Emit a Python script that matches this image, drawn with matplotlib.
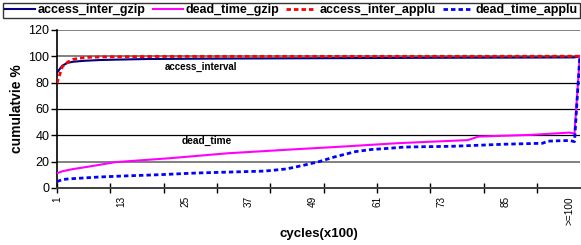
import numpy as np
import matplotlib.pyplot as plt

plt.rcParams['font.family'] = ['Liberation Sans', 'DejaVu Sans']

# category numbers (1-based) and cumulative %
gzip_access_cat = [1, 2, 3, 4, 6, 9, 12, 18, 30, 50, 70, 90, 98, 99]
gzip_access_val = [87.5, 92.8, 95.0, 95.8, 96.5, 97.1, 97.4, 97.9, 98.2, 98.5, 98.8, 99.0, 99.1, 100]

gzip_dead_cat = [1, 2, 3, 4, 7, 12, 22, 33, 45, 55, 65, 78, 80, 90, 97, 98, 99]
gzip_dead_val = [11.1, 12.6, 13.5, 14.3, 16.2, 19.6, 22.5, 26.3, 29.2, 31.5, 34.0, 36.3, 39.0, 40.3, 42.0, 41.3, 100]

applu_access_cat = [1, 2, 3, 4, 5, 7, 10, 20, 99]
applu_access_val = [79.5, 92.0, 95.5, 97.5, 98.5, 99.2, 99.5, 99.8, 100]

applu_dead_cat = [1, 2, 3, 5, 9, 13, 20, 27, 33, 40, 44, 47, 50, 53, 57, 60, 63, 66,
                  70, 75, 80, 85, 88, 92, 93, 95, 97, 98, 99]
applu_dead_val = [4.8, 6.3, 6.8, 7.3, 8.3, 9.0, 10.0, 11.3, 12.0, 12.8, 14.4, 17.0, 19.8,
                  23.5, 27.6, 29.2, 30.0, 31.0, 31.3, 31.6, 32.4, 33.2, 33.5, 33.9, 35.5,
                  35.8, 36.0, 35.2, 100]

tick_cats = [1, 13, 25, 37, 49, 61, 73, 85, 97]
tick_labels = ["1", "13", "25", "37", "49", "61", "73", "85", ">=100"]
n_cats = 99

fig = plt.figure(figsize=(5.81, 2.45), dpi=100)
ax = fig.add_axes([0.098, 0.233, 0.9, 0.645])

def idx(cats):
    return np.array(cats) - 1

# horizontal gridlines (some render grey/soft in the original)
for level in [20, 40, 60, 80, 100, 120]:
    if level in (20, 100, 120):
        ax.axhline(level, color="#808080", lw=1.4, zorder=0)
    else:
        ax.axhline(level, color="black", lw=0.9, zorder=0)

ax.plot(idx(gzip_access_cat), gzip_access_val, color="#000080", lw=1.5,
        label="access_inter_gzip", zorder=3)
ax.plot(idx(gzip_dead_cat), gzip_dead_val, color="#FF00FF", lw=1.5,
        label="dead_time_gzip", zorder=3)
ax.plot(idx(applu_access_cat), applu_access_val, color="#FF0000", lw=2.0,
        ls=(0, (1.6, 1.1)), label="access_inter_applu", zorder=4)
ax.plot(idx(applu_dead_cat), applu_dead_val, color="#0000FF", lw=2.0,
        ls=(0, (1.6, 1.1)), label="dead_time_applu", zorder=4)

ax.text(27, 91.6, "access_interval", fontsize=7, fontweight="bold", ha="center", va="center")
ax.text(28, 35.9, "dead_time", fontsize=7.3, fontweight="bold", ha="center", va="center")

ax.set_xlim(0, n_cats - 1)
ax.set_ylim(0, 120)
ax.set_yticks([0, 20, 40, 60, 80, 100, 120])
ax.tick_params(axis="y", labelsize=9, length=4, width=1, pad=1.5)

# tick marks every 10 categories, labels every 12
ax.xaxis.remove_overlapping_locs = False
ax.set_xticks(idx(tick_cats))
ax.set_xticklabels(tick_labels, rotation=90, fontsize=7.2)
ax.set_xticks(np.arange(0, n_cats, 10), minor=True)
ax.tick_params(axis="x", which="major", length=0, pad=6)
ax.tick_params(axis="x", which="minor", direction="inout", length=7, width=1)

for side in ["top", "right"]:
    ax.spines[side].set_visible(False)
ax.spines["left"].set_linewidth(1.2)
ax.spines["bottom"].set_color("#404040")
ax.spines["bottom"].set_linewidth(1.4)

ax.set_ylabel("cumulatvie %", fontsize=10, fontweight="bold", labelpad=3)
ax.set_xlabel("cycles(x100)", fontsize=9.5, fontweight="bold", labelpad=2)

leg = fig.legend(loc="lower left", bbox_to_anchor=(0.005, 0.925, 0.993, 0.068),
                 mode="expand", ncol=4, frameon=True, fancybox=False,
                 prop={"size": 9, "weight": "bold"}, handlelength=2.4,
                 handletextpad=0.25, borderaxespad=0, borderpad=0.15, columnspacing=0.4)
leg.get_frame().set_edgecolor("black")
leg.get_frame().set_linewidth(1.0)

fig.savefig("out.png", dpi=100)
